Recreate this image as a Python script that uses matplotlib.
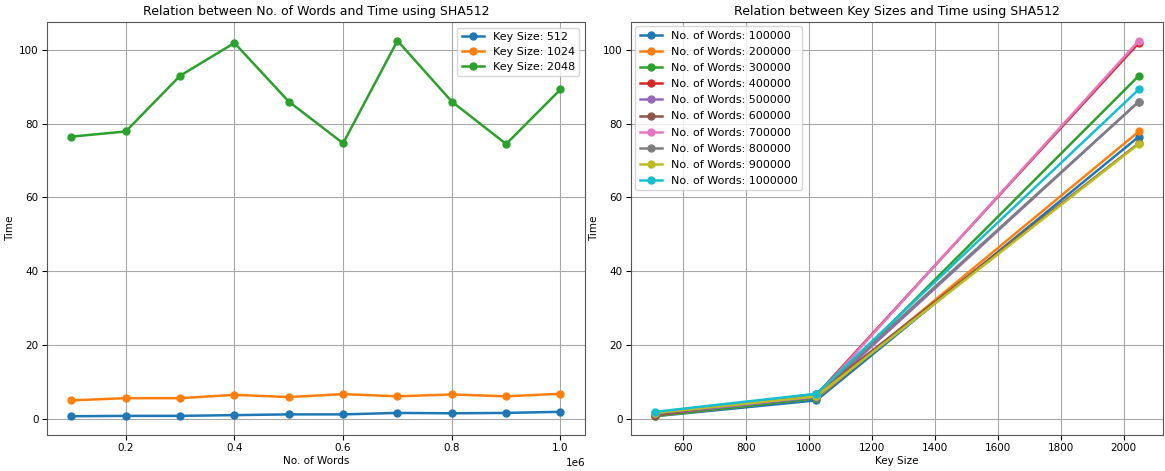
import numpy as np
import matplotlib
matplotlib.use("Agg")
import matplotlib.pyplot as plt

plt.rcParams['font.family'] = ['DejaVu Sans']

words = [100000, 200000, 300000, 400000, 500000, 600000, 700000, 800000, 900000, 1000000]
key_sizes = [512, 1024, 2048]

# time per key size, one value per word count
t_512 = [0.7, 0.8, 0.8, 1.0, 1.2, 1.2, 1.6, 1.5, 1.6, 1.9]
t_1024 = [5.0, 5.6, 5.6, 6.5, 5.9, 6.7, 6.1, 6.6, 6.1, 6.8]
t_2048 = [76.5, 77.9, 93.0, 101.9, 86.0, 74.7, 102.5, 86.0, 74.5, 89.3]
times = [t_512, t_1024, t_2048]

fs = 7.5

fig = plt.figure(figsize=(11.65, 4.71), dpi=100)
ax1 = fig.add_axes([0.0403, 0.0764, 0.4618, 0.877])
ax2 = fig.add_axes([0.5416, 0.0764, 0.4567, 0.877])

for k, t in zip(key_sizes, times):
    ax1.plot(words, t, marker="o", markersize=5, linewidth=1.8, label="Key Size: %d" % k)
ax1.set_title("Relation between No. of Words and Time using SHA512", fontsize=9, pad=5)
ax1.set_xlabel("No. of Words", fontsize=fs, labelpad=2)
ax1.set_ylabel("Time", fontsize=fs, labelpad=3)
ax1.legend(fontsize=8, labelspacing=0.45)

for i, w in enumerate(words):
    ax2.plot(key_sizes, [t[i] for t in times], marker="o", markersize=5, linewidth=1.8,
             label="No. of Words: %d" % w)
ax2.set_title("Relation between Key Sizes and Time using SHA512", fontsize=9, pad=5)
ax2.set_xlabel("Key Size", fontsize=fs, labelpad=2)
ax2.set_ylabel("Time", fontsize=fs, labelpad=3)
ax2.legend(fontsize=8, labelspacing=0.55, borderaxespad=0.4)

for ax in (ax1, ax2):
    ax.grid(True, color="#a8a8a8", linewidth=0.8)
    ax.tick_params(labelsize=fs, pad=2.5)
    for s in ax.spines.values():
        s.set_color("#555555")
ax1.xaxis.get_offset_text().set_fontsize(fs)

fig.savefig("out.png", dpi=100)
